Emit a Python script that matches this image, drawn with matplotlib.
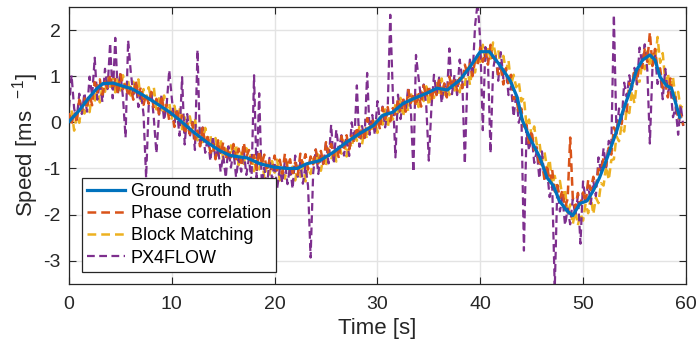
import numpy as np
import matplotlib
matplotlib.use("Agg")
from matplotlib import pyplot as plt

plt.rcParams['font.family'] = ['Liberation Sans', 'DejaVu Sans']
plt.rcParams['mathtext.fontset'] = 'custom'
plt.rcParams['mathtext.rm'] = 'Liberation Sans'
plt.rcParams['mathtext.default'] = 'regular'
plt.rcParams['axes.unicode_minus'] = False

# ground truth
gt_t = [0.0, 1.0, 2.0, 2.7, 3.3, 4.3, 5.3, 6.2, 7.2, 8.5, 9.8, 10.8, 12.1, 13.4, 14.7,
        15.7, 16.6, 17.3, 18.6, 19.9, 21.2, 22.2, 23.1, 24.4, 25.7, 27.0, 28.3, 29.6,
        30.5, 31.5, 32.5, 33.8, 34.8, 35.8, 36.8, 37.7, 38.0, 39.0, 40.0, 40.9, 41.9,
        42.9, 43.6, 44.1, 44.8, 45.8, 46.5, 47.1, 47.7, 48.4, 49.0, 49.7, 50.4, 51.0,
        51.6, 52.3, 53.3, 53.9, 54.6, 55.2, 55.8, 56.5, 57.0, 57.5, 58.1, 58.6, 59.4]
gt_v = [0.02, 0.26, 0.55, 0.73, 0.84, 0.85, 0.78, 0.72, 0.59, 0.41, 0.22, 0.04, -0.21,
        -0.43, -0.62, -0.72, -0.75, -0.77, -0.90, -0.97, -1.00, -1.00, -0.90, -0.83,
        -0.65, -0.43, -0.24, -0.07, 0.15, 0.22, 0.41, 0.54, 0.63, 0.74, 0.70, 0.86,
        0.91, 1.20, 1.53, 1.53, 1.24, 0.91, 0.54, 0.04, -0.33, -0.76, -1.20, -1.37,
        -1.70, -1.91, -2.02, -1.76, -1.70, -1.48, -1.20, -0.80, -0.17, 0.26, 0.70,
        1.13, 1.35, 1.46, 1.35, 0.98, 0.80, 0.74, 0.11]

# estimates, 4 samples per second
t_est = np.arange(0, 60, 0.25)

phase_corr = [
    0.20, -0.06, 0.24, 0.00, 0.49, 0.27, 0.52, 0.30, 0.60, 0.37, 0.87, 0.65,
    0.93, 0.60, 0.88, 0.72, 1.03, 0.71, 0.94, 0.62, 1.04, 0.72, 0.88, 0.56,
    0.77, 0.49, 0.90, 0.58, 0.77, 0.38, 0.61, 0.40, 0.66, 0.30, 0.51, 0.18,
    0.58, 0.24, 0.38, 0.04, 0.23, -0.10, 0.29, -0.03, 0.15, -0.25, -0.04, -0.26,
    -0.01, -0.37, -0.18, -0.52, -0.12, -0.46, -0.32, -0.66, -0.47, -0.80, -0.39, -0.71,
    -0.43, -0.80, -0.56, -0.76, -0.47, -0.80, -0.57, -0.88, -0.44, -0.76, -0.60, -0.92,
    -0.71, -1.02, -0.61, -0.91, -0.70, -1.06, -0.82, -1.01, -0.72, -1.04, -0.81, -1.11,
    -0.68, -0.98, -0.80, -1.10, -0.87, -1.14, -0.68, -0.94, -0.69, -1.02, -0.74, -0.91,
    -0.59, -0.89, -0.62, -0.90, -0.43, -0.69, -0.47, -0.72, -0.53, -0.78, -0.30, -0.55,
    -0.28, -0.59, -0.29, -0.44, -0.10, -0.39, -0.11, -0.38, 0.09, -0.16, 0.07, -0.18,
    0.10, -0.16, 0.32, 0.07, 0.33, 0.02, 0.31, 0.17, 0.50, 0.22, 0.49, 0.23,
    0.70, 0.42, 0.63, 0.35, 0.61, 0.34, 0.80, 0.55, 0.80, 0.47, 0.75, 0.59,
    0.91, 0.59, 0.84, 0.54, 0.99, 0.73, 0.95, 0.69, 0.96, 0.74, 1.25, 1.05,
    1.27, 1.00, 1.34, 1.24, 1.62, 1.31, 1.55, 1.25, 1.68, 1.31, 1.41, 1.04,
    1.19, 0.82, 1.17, 0.81, 1.03, 0.50, 0.56, 0.18, 0.30, -0.16, -0.05, -0.49,
    -0.18, -0.60, -0.54, -0.96, -0.85, -1.25, -0.92, -1.30, -1.03, -1.50, -1.36, -1.65,
    -1.47, -1.85, -1.66, -0.33, -1.63, -1.86, -1.53, -1.78, -1.52, -1.75, -1.25, -1.47,
    -1.18, -1.40, -1.01, -1.05, -0.77, -0.94, -0.55, -0.70, -0.11, -0.25, 0.10, -0.04,
    0.35, 0.24, 0.85, 0.75, 1.15, 0.90, 1.26, 1.18, 1.58, 1.31, 1.95, 1.22,
    1.59, 1.14, 1.17, 0.74, 0.87, 0.54, 0.95, 0.52, 0.55, 0.05, 0.17, -0.07]

block_match = [
    -0.03, 0.26, -0.18, 0.16, -0.01, 0.40, 0.19, 0.45, 0.22, 0.62, 0.45, 0.81,
    0.43, 0.79, 0.66, 0.98, 0.77, 1.08, 0.65, 0.93, 0.69, 1.02, 0.74, 0.90,
    0.58, 0.88, 0.62, 0.93, 0.46, 0.72, 0.50, 0.76, 0.50, 0.76, 0.28, 0.52,
    0.26, 0.58, 0.28, 0.42, 0.08, 0.36, 0.08, 0.34, -0.15, 0.11, -0.12, 0.13,
    -0.15, 0.10, -0.39, -0.15, -0.43, -0.12, -0.42, -0.28, -0.62, -0.34, -0.62, -0.36,
    -0.83, -0.57, -0.78, -0.50, -0.75, -0.48, -0.93, -0.66, -0.90, -0.56, -0.82, -0.66,
    -1.06, -0.76, -1.02, -0.74, -1.21, -0.93, -1.13, -0.84, -1.09, -0.81, -1.26, -0.98,
    -1.22, -0.87, -1.14, -0.96, -1.26, -0.94, -1.18, -0.86, -1.28, -0.96, -1.12, -0.80,
    -0.93, -0.63, -1.05, -0.75, -0.95, -0.58, -0.81, -0.59, -0.85, -0.48, -0.68, -0.34,
    -0.74, -0.41, -0.55, -0.21, -0.40, -0.08, -0.48, -0.17, -0.36, 0.02, -0.21, 0.02,
    -0.23, 0.14, -0.05, 0.28, -0.12, 0.21, 0.06, 0.40, 0.20, 0.53, 0.12, 0.44,
    0.24, 0.63, 0.40, 0.60, 0.33, 0.67, 0.46, 0.78, 0.36, 0.69, 0.53, 0.85,
    0.64, 0.95, 0.53, 0.81, 0.59, 0.94, 0.69, 0.91, 0.65, 1.01, 0.81, 1.18,
    0.81, 1.19, 1.08, 1.46, 1.31, 1.68, 1.32, 1.61, 1.38, 1.73, 1.46, 1.57,
    1.19, 1.44, 1.12, 1.34, 0.81, 1.03, 0.76, 0.88, 0.45, 0.54, -0.08, 0.06,
    -0.30, -0.09, -0.48, -0.42, -0.84, -0.64, -1.00, -0.81, -1.36, -1.16, -1.45, -1.27,
    -1.62, -1.44, -2.00, -1.78, -2.21, -1.92, -2.23, -1.98, -2.13, -1.76, -1.97, -1.61,
    -1.99, -1.63, -1.75, -1.32, -1.37, -0.94, -1.25, -0.82, -0.80, -0.30, -0.41, -0.07,
    -0.20, 0.28, 0.20, 0.68, 0.41, 0.89, 0.88, 1.28, 1.15, 1.54, 1.20, 1.53,
    1.31, 1.85, 1.29, 1.50, 0.87, 1.06, 0.72, 0.98, 0.51, 0.66, 0.28, 0.43]

px4flow = [
    0.32, 1.02, 0.30, 0.06, 0.62, 0.18, 0.64, 0.23, 0.99, 0.57, 1.40, 0.49,
    0.88, 0.44, 1.16, 0.72, 1.72, 0.52, 1.83, 0.61, 1.07, 0.54, -0.33, 1.78,
    1.11, 0.60, 0.85, 0.33, 0.66, 0.17, -1.20, 0.35, 0.68, 0.09, -0.67, 0.15,
    0.59, 0.04, 0.38, 1.13, 0.52, -0.01, 0.24, -0.29, 0.98, -0.48, 0.18, -0.32,
    0.01, -0.60, 1.57, -0.55, -0.11, -0.66, -0.32, -0.84, -0.30, -0.81, -0.56, -1.07,
    -0.72, -1.20, -0.52, -0.98, -0.62, -1.19, -0.78, -1.07, -0.61, -1.14, -0.78, -1.28,
    1.02, -1.20, 0.63, -1.34, -0.98, -1.46, -0.77, -1.23, -0.86, -1.43, -1.01, -1.31,
    -0.83, -1.34, -0.96, -1.44, -0.72, -1.18, -0.87, -1.33, -0.94, -1.38, -2.93, -1.10,
    -0.59, -1.12, -0.68, -0.94, -0.42, -0.89, -0.05, -0.90, -0.16, -0.60, -0.28, -0.72,
    -0.31, -0.73, 0.00, -0.41, 0.80, -0.53, -0.08, -0.34, 1.07, -0.27, 0.16, -0.27,
    0.46, 0.02, 0.34, -0.11, 0.30, 2.33, 0.61, -0.76, 0.60, 0.07, 0.53, 0.27,
    0.77, 0.29, -1.08, 1.46, 0.96, 0.50, 0.82, 0.36, -0.83, 0.31, 1.03, 0.60,
    0.97, 0.42, 0.84, 0.56, 1.60, 0.61, 1.03, 0.59, 1.36, 0.95, -0.90, 0.91,
    1.36, 0.98, 2.10, 2.60, 1.77, -0.17, 1.63, 1.33, -0.67, 1.15, 1.46, 0.90,
    1.52, 0.95, 1.16, 0.59, 0.78, 0.12, 0.62, -0.01, 0.22, -2.78, -0.19, -0.61,
    -0.25, -0.88, -0.62, -1.22, -0.63, -1.22, -1.03, -1.62, -1.37, -3.60, -1.36, -1.93,
    -1.62, -2.23, -1.87, -2.21, -1.66, -2.02, -1.59, -2.63, -1.28, -1.70, -1.35, -1.77,
    -1.27, -1.60, -0.76, -1.08, -0.56, -0.97, -0.40, -0.54, 2.33, -0.24, 0.30, -0.02,
    0.86, 0.55, 1.02, 0.71, 1.18, 0.82, 1.62, 1.27, 1.69, 1.14, -0.46, 1.16,
    1.49, 0.83, 1.08, 0.50, 1.16, 0.65, 0.79, 0.11, 0.33, -0.27, 0.37, -0.08]

c_gt = '#0072BD'
c_pc = '#D95319'
c_bm = '#EDB120'
c_px = '#7E2F8E'
txt = '#262626'

fig = plt.figure(figsize=(6.97, 3.47), dpi=100)
ax = fig.add_axes([0.099, 0.182, 0.885, 0.798])

dash = (3.5, 2.0)
l_gt, = ax.plot(gt_t, gt_v, color=c_gt, lw=2.3, zorder=5, label='Ground truth')
l_pc, = ax.plot(t_est, phase_corr, color=c_pc, lw=1.8, dashes=dash, zorder=3,
                label='Phase correlation')
l_bm, = ax.plot(t_est, block_match, color=c_bm, lw=1.8, dashes=dash, zorder=2,
                label='Block Matching')
l_px, = ax.plot(t_est, px4flow, color=c_px, lw=1.6, dashes=dash, zorder=2.5,
                label='PX4FLOW')

ax.set_xlim(0, 60)
ax.set_ylim(-3.5, 2.5)
ax.set_xticks([0, 10, 20, 30, 40, 50, 60])
ax.set_yticks([-3, -2, -1, 0, 1, 2])
ax.grid(True, color='#e3e3e3', lw=1.0)
ax.set_axisbelow(True)
ax.tick_params(direction='in', top=True, right=True, length=5, width=0.8,
               colors=txt, labelsize=14)
ax.tick_params(axis='x', pad=9)
ax.tick_params(axis='y', pad=6)
for s in ax.spines.values():
    s.set_color(txt)
    s.set_linewidth(0.9)

ax.set_xlabel('Time [s]', fontsize=16, color=txt, labelpad=3)
ax.set_ylabel('Speed [ms  $^{-1}$]', fontsize=16, color=txt, labelpad=2)

leg = ax.legend(handles=[l_gt, l_pc, l_bm, l_px], loc='lower left',
                bbox_to_anchor=(0.021, 0.043), borderaxespad=0, fancybox=False,
                fontsize=13, handlelength=2.1, handletextpad=0.3,
                labelspacing=0.28, borderpad=0.3, framealpha=1)
leg.get_frame().set_edgecolor(txt)
leg.get_frame().set_linewidth(0.9)
leg.set_zorder(10)
for t in leg.get_texts():
    t.set_color('black')

fig.savefig('out.png', dpi=100)
